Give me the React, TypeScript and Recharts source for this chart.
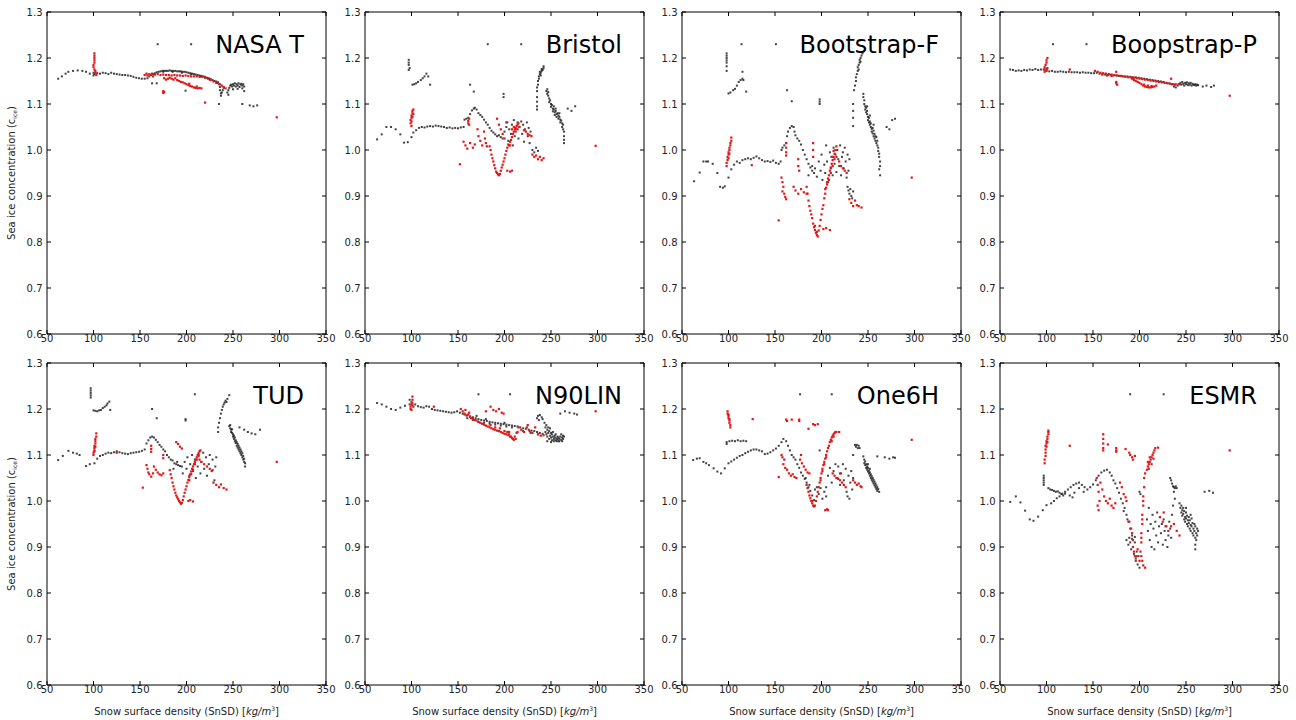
import { ScatterChart, Scatter, XAxis, YAxis } from "recharts"

type Pt = [number, number]

const titles = ["NASA T", "Bristol", "Bootstrap-F", "Boopstrap-P", "TUD", "N90LIN", "One6H", "ESMR"]
const xTicks = [50, 100, 150, 200, 250, 300, 350]
const yTicks = [0.6, 0.7, 0.8, 0.9, 1.0, 1.1, 1.2, 1.3]

// x = SnSD [kg/m3], y = sea ice concentration; black = all samples, red = highlighted samples
const nasaBlack: Pt[] = [
  [62,1.155],[66,1.16],[70,1.166],[73,1.17],[78,1.172],[83,1.173],[88,1.172],[92,1.17],[96,1.166],
  [100,1.168],[100,1.162],[101,1.165],
  [104,1.167],[107,1.166],[110,1.168],[113,1.167],[116,1.165],[119,1.168],[122,1.166],[125,1.165],[128,1.164],[131,1.163],[134,1.163],[137,1.162],[140,1.161],[143,1.159],[146,1.157],[149,1.156],[152,1.155],[155,1.155],[158,1.156],
  [160,1.16],[162,1.163],[164,1.165],[166,1.167],[168,1.169],[170,1.17],[172,1.171],[174,1.172],[176,1.172],[178,1.172],[180,1.172],[182,1.173],[184,1.172],[186,1.172],[188,1.172],[190,1.171],[192,1.171],[194,1.171],[196,1.17],[198,1.17],[200,1.169],[202,1.168],[204,1.167],[206,1.166],[208,1.165],[210,1.164],[212,1.163],[214,1.162],[216,1.161],[218,1.16],[220,1.159],[222,1.157],[224,1.156],[226,1.154],[228,1.152],[230,1.15],[232,1.149],[234,1.147],[236,1.143],
  [175,1.17],[185,1.17],[195,1.168],[205,1.165],[215,1.16],[225,1.153],[233,1.146],
  [236,1.137],[236,1.13],[237,1.123],[237,1.118],[238,1.125],[239,1.13],[240,1.135],
  [244,1.125],[245,1.13],[246,1.135],[247,1.14],[248,1.142],[249,1.138],[250,1.143],[251,1.14],[252,1.145],[253,1.138],[254,1.143],[255,1.14],[256,1.145],[257,1.137],[258,1.142],[259,1.144],[260,1.14],[261,1.143],[262,1.138],[262,1.128],[245,1.12],[250,1.132],[255,1.133],[260,1.134],
  [163,1.145],[168,1.145],[199,1.129],[169,1.23],[205,1.23],[235,1.1],[260,1.1],[268,1.097],[272,1.095],[276,1.097],
]
const nasaRed: Pt[] = [
  [101,1.21],[101,1.205],[101,1.2],[101,1.195],[101,1.19],[100,1.185],[100,1.18],[101,1.175],[102,1.172],[102,1.168],[103,1.163],
  [155,1.163],[157,1.166],[160,1.165],[163,1.166],[166,1.164],[169,1.165],[172,1.163],[175,1.164],[178,1.163],[181,1.163],[184,1.162],[187,1.163],[190,1.162],[193,1.162],[196,1.161],[199,1.162],[202,1.161],[205,1.16],[208,1.16],[211,1.16],[214,1.159],[217,1.159],[220,1.157],[223,1.155],[226,1.152],[229,1.149],[232,1.146],[235,1.143],[238,1.14],[240,1.137],[242,1.134],
  [176,1.156],[178,1.153],[180,1.155],[182,1.157],[184,1.155],[186,1.153],[188,1.156],[190,1.152],[192,1.15],[194,1.148],[196,1.147],[198,1.145],[200,1.143],[202,1.141],[204,1.139],[206,1.138],[208,1.136],[210,1.135],[212,1.134],[214,1.135],[216,1.134],[211,1.138],[203,1.144],
  [175,1.128],[175,1.124],[176,1.126],[220,1.103],[297,1.071],[158,1.162],[164,1.16],
]

const bristolBlack: Pt[] = [
  [63,1.023],[68,1.034],[73,1.05],[78,1.05],[83,1.045],[88,1.034],[92,1.016],[96,1.017],
  [97,1.196],[97,1.19],[97,1.185],[98,1.178],[97,1.174],
  [101,1.142],[103,1.143],[105,1.145],[107,1.148],[110,1.152],[112,1.156],[114,1.16],[116,1.166],[118,1.16],[120,1.142],
  [100,1.028],[102,1.038],[105,1.043],[108,1.048],[111,1.05],[114,1.049],[117,1.051],[120,1.052],[123,1.051],[126,1.053],[129,1.052],[132,1.051],[135,1.05],[138,1.048],[141,1.049],[144,1.047],[147,1.048],[150,1.047],[153,1.049],[156,1.05],
  [157,1.066],[159,1.068],[161,1.07],[163,1.078],[165,1.086],[167,1.09],[168,1.092],[170,1.088],[172,1.08],[174,1.076],[176,1.072],[178,1.066],[180,1.06],[182,1.055],[184,1.048],[186,1.042],[188,1.038],[190,1.034],[192,1.03],[194,1.032],[196,1.028],[198,1.025],
  [200,1.04],[202,1.05],[203,1.06],[205,1.045],[207,1.035],[208,1.055],[210,1.065],[211,1.03],[212,1.045],[214,1.06],[215,1.025],[216,1.05],[218,1.062],[219,1.035],[220,1.055],[221,1.018],[222,1.045],[224,1.06],[225,1.03],[226,1.048],[227,1.015],[228,1.04],[204,1.02],[209,1.01],
  [163,1.142],[167,1.127],[182,1.23],[199,1.122],[199,1.115],[218,1.23],
  [230,1.0],[232,0.995],[234,1.005],[236,0.998],
  [235,1.128],[235,1.136],[236,1.142],[236,1.15],[237,1.155],[237,1.16],[238,1.165],[238,1.17],[239,1.168],[240,1.172],[240,1.176],[241,1.174],[242,1.178],[242,1.182],[239,1.162],
  [235,1.115],[235,1.105],[235,1.095],[235,1.088],
  [245,1.128],[246,1.132],[246,1.122],[247,1.118],[247,1.126],[248,1.112],[248,1.104],[249,1.108],[250,1.1],[250,1.094],[251,1.098],[252,1.09],[252,1.084],[253,1.088],[254,1.082],[254,1.076],[255,1.085],[256,1.078],[256,1.072],[257,1.08],[258,1.075],[258,1.068],[259,1.072],[260,1.066],[260,1.06],[261,1.064],[262,1.058],[262,1.05],[263,1.055],[263,1.045],[264,1.04],[264,1.03],[264,1.022],[264,1.015],[255,1.09],[259,1.08],[253,1.095],
  [268,1.09],[272,1.085],[276,1.095],
]
const bristolRed: Pt[] = [
  [99,1.058],[99,1.065],[100,1.07],[100,1.075],[100,1.062],[101,1.08],[101,1.085],[102,1.088],[101,1.072],[100,1.052],[102,1.078],
  [161,1.058],[161,1.063],[162,1.068],[162,1.055],[152,0.969],
  [156,1.018],[158,1.01],[160,1.003],[163,1.015],[166,1.005],[168,1.012],
  [171,1.045],[172,1.03],[174,1.02],[176,1.01],[178,1.04],[179,1.025],[180,1.015],[181,1.008],
  [184,1.008],[185,1.0],[186,0.99],[187,0.982],[188,0.975],[189,0.967],[190,0.96],[191,0.953],[192,0.95],[193,0.947],[194,0.945],[195,0.948],
  [196,0.955],[197,0.962],[198,0.968],[199,0.975],[200,0.982],[201,0.99],[202,0.998],[203,1.005],[204,1.012],[205,1.01],[206,1.018],[207,1.022],[208,1.028],[209,1.035],[210,1.04],[211,1.045],[212,1.048],[213,1.052],[214,1.055],[215,1.058],[216,1.05],[210,1.05],[212,1.04],[214,1.045],[208,1.045],[206,1.01],
  [192,1.068],[194,1.055],[196,1.045],[198,1.035],[200,1.025],[202,1.06],[203,0.955],[206,0.953],[208,0.955],
  [221,1.043],[223,1.04],[225,1.035],[227,1.032],[229,1.03],
  [230,0.99],[232,0.985],[234,0.988],[236,0.98],[238,0.985],[240,0.978],[242,0.982],
  [298,1.009],
]

const bootFBlack: Pt[] = [
  [63,0.932],[69,0.951],[73,0.975],[76,0.975],[78,0.975],[83,0.97],[88,0.95],[91,0.92],[94,0.918],[96,0.921],
  [98,1.21],[98,1.205],[98,1.2],[98,1.195],[98,1.19],[98,1.182],[98,1.172],
  [100,1.123],[102,1.125],[105,1.13],[107,1.133],[109,1.14],[111,1.148],[113,1.152],[115,1.155],[116,1.152],[115,1.17],[119,1.127],
  [100,0.94],[103,0.958],[106,0.968],[109,0.975],[112,0.972],[115,0.978],[118,0.98],[121,0.982],[124,0.98],[127,0.983],[130,0.986],[133,0.982],[136,0.978],[139,0.975],[142,0.976],[145,0.974],[148,0.977],[151,0.972],[154,0.97],[156,0.975],
  [157,1.0],[158,1.005],[160,1.01],[162,1.015],[163,1.03],[164,1.04],[166,1.048],[168,1.052],[170,1.05],[171,1.04],[172,1.032],[174,1.025],[176,1.02],[178,1.012],[180,1.0],[182,0.99],[184,0.98],[186,0.97],[188,0.962],[190,0.955],[192,0.95],
  [163,1.13],[168,1.106],[198,1.11],[198,1.1],[198,1.105],[114,1.23],[151,1.23],
  [186,0.945],[190,0.965],[193,0.96],[195,0.942],[197,0.975],[199,0.955],[200,0.99],[201,0.935],[203,0.968],[204,0.95],[205,1.01],[206,0.975],[207,0.93],[209,0.995],[210,0.96],[211,0.985],[212,0.945],[213,1.005],[214,0.97],[215,0.99],[216,0.952],[217,1.0],[218,0.98],[219,0.965],[220,1.01],[221,0.945],[222,0.985],[223,0.995],[224,0.96],[225,1.005],[226,0.975],[227,0.94],[228,0.99],[229,0.955],[230,0.98],
  [228,0.92],[229,0.912],[230,0.905],[231,0.915],[232,0.9],[233,0.895],[234,0.91],
  [235,1.13],[236,1.14],[237,1.15],[237,1.158],[238,1.165],[239,1.172],[239,1.18],[240,1.185],[241,1.19],[241,1.196],[242,1.2],[243,1.205],[244,1.21],[240,1.175],[242,1.192],
  [234,1.1],[234,1.085],[234,1.07],[234,1.052],
  [245,1.122],[245,1.115],[246,1.108],[246,1.1],[247,1.095],[247,1.088],[248,1.092],[248,1.082],[249,1.078],[249,1.085],[250,1.072],[250,1.065],[251,1.07],[251,1.06],[252,1.062],[252,1.055],[253,1.05],[253,1.058],[254,1.046],[254,1.04],[255,1.048],[255,1.036],[256,1.042],[256,1.03],[257,1.035],[257,1.025],[258,1.03],[258,1.02],[259,1.028],[259,1.015],[260,1.02],[260,1.01],[261,1.005],[261,0.998],[262,0.992],[262,0.985],[263,0.975],[263,0.965],[262,0.958],[263,0.945],[252,1.075],[256,1.055],[249,1.095],
  [270,1.05],[273,1.045],[276,1.065],[279,1.068],
]
const bootFRed: Pt[] = [
  [98,0.965],[98,0.972],[99,0.978],[99,0.985],[100,0.99],[100,0.995],[101,1.0],[101,1.005],[102,1.01],[102,1.015],[103,1.02],[103,1.027],[100,0.982],[101,0.992],
  [125,0.967],[154,0.847],
  [157,0.94],[158,0.93],[159,0.92],[160,0.905],[161,0.898],[162,0.893],[158,0.91],
  [162,1.015],[162,1.005],[162,0.995],[162,0.988],
  [170,0.92],[172,0.912],[175,0.905],[178,0.915],[181,0.908],[184,0.905],
  [175,0.98],[175,0.965],[176,0.955],
  [184,0.92],[185,0.905],[186,0.89],[187,0.878],[188,0.868],[189,0.86],[190,0.852],[191,0.84],[192,0.832],[193,0.826],[194,0.82],[195,0.815],[196,0.812],[193,0.835],[195,0.822],
  [197,0.825],[198,0.835],[199,0.848],[200,0.86],[201,0.872],[202,0.88],[203,0.895],[204,0.905],[205,0.918],[206,0.93],[207,0.938],[208,0.945],[209,0.955],[210,0.962],[211,0.97],[212,0.978],[213,0.985],[214,0.992],[215,1.0],[216,1.008],[208,0.935],[210,0.95],[212,0.965],[214,0.98],[206,0.925],[204,0.915],[211,0.985],[213,0.998],
  [191,1.015],[191,1.0],[191,0.985],
  [202,0.828],[205,0.83],[209,0.826],
  [216,0.985],[219,0.975],[221,0.965],[223,0.96],[225,0.955],[227,0.95],
  [230,0.893],[232,0.885],[234,0.878],[236,0.89],[238,0.88],[240,0.878],[243,0.875],
  [297,0.94],
]

const bootPBlack: Pt[] = [
  [61,1.175],[64,1.174],[67,1.172],[70,1.173],[73,1.172],[76,1.174],[79,1.173],[82,1.175],[85,1.174],[88,1.176],[91,1.174],[94,1.175],[97,1.175],[100,1.172],[100,1.176],[103,1.171],[106,1.172],[109,1.17],[112,1.17],[115,1.171],[118,1.17],[121,1.169],[124,1.17],[127,1.169],[130,1.169],[133,1.169],[136,1.168],[139,1.169],[142,1.168],[145,1.168],[148,1.167],[151,1.167],[154,1.168],
  [157,1.166],[160,1.165],[163,1.164],[166,1.163],[169,1.163],[172,1.162],[175,1.162],[178,1.161],[181,1.161],[184,1.16],[187,1.16],[190,1.159],[193,1.158],[196,1.158],[199,1.157],[202,1.156],[205,1.155],[208,1.154],[211,1.153],[214,1.152],[217,1.151],[220,1.15],[223,1.149],[226,1.148],[229,1.146],[232,1.145],[235,1.143],[238,1.142],[241,1.14],[237,1.138],[239,1.136],
  [243,1.143],[244,1.146],[245,1.142],[246,1.148],[247,1.144],[248,1.14],[249,1.146],[250,1.143],[251,1.147],[252,1.141],[253,1.145],[254,1.142],[255,1.146],[256,1.14],[257,1.144],[258,1.142],[259,1.141],[260,1.143],[261,1.14],[262,1.142],[263,1.141],
  [107,1.23],[143,1.23],[268,1.138],[272,1.14],[277,1.137],[280,1.14],
]
const bootPRed: Pt[] = [
  [98,1.17],[98,1.175],[98,1.18],[99,1.185],[100,1.19],[100,1.195],[101,1.2],[100,1.173],[101,1.178],
  [125,1.175],[175,1.17],[234,1.155],[297,1.118],
  [152,1.172],[155,1.17],[158,1.168],[161,1.167],[164,1.166],[167,1.165],[170,1.164],[173,1.163],[176,1.162],[179,1.161],[182,1.16],[185,1.159],[188,1.158],[191,1.158],[194,1.157],[197,1.156],[200,1.155],[203,1.154],[206,1.153],[209,1.152],[212,1.151],[215,1.15],[218,1.149],[221,1.148],[224,1.147],[227,1.146],[230,1.145],[233,1.144],[236,1.143],[239,1.143],[242,1.143],[160,1.164],[165,1.162],[170,1.161],
  [192,1.155],[194,1.152],[196,1.15],[198,1.148],[200,1.146],[202,1.143],[204,1.14],[206,1.138],[208,1.137],[210,1.136],[212,1.136],[214,1.137],[216,1.138],[218,1.14],[205,1.142],[209,1.14],[213,1.139],
  [175,1.148],[175,1.145],[176,1.142],
]

const tudBlack: Pt[] = [
  [62,1.089],[67,1.098],[73,1.109],[78,1.105],[82,1.103],[85,1.1],[92,1.076],[96,1.08],
  [97,1.245],[97,1.24],[97,1.235],[97,1.23],[97,1.225],
  [100,1.197],[102,1.196],[104,1.195],[106,1.197],[108,1.198],[110,1.202],[112,1.205],[114,1.208],[115,1.212],[117,1.216],[118,1.198],
  [101,1.082],[104,1.092],[107,1.098],[110,1.1],[113,1.103],[116,1.105],[119,1.104],[122,1.106],[125,1.108],[128,1.106],[131,1.104],[134,1.103],[137,1.102],[140,1.104],[143,1.105],[146,1.106],[149,1.107],[152,1.109],[155,1.112],
  [157,1.125],[159,1.132],[161,1.138],[163,1.14],[165,1.138],[167,1.133],[169,1.128],[171,1.122],[173,1.118],[175,1.112],[177,1.108],[179,1.1],[181,1.095],[183,1.09],[185,1.088],[187,1.082],[189,1.08],[191,1.078],[193,1.076],[195,1.075],
  [186,1.07],[190,1.085],[196,1.06],[198,1.085],[200,1.07],[201,1.095],[203,1.055],[204,1.08],[206,1.1],[207,1.065],[209,1.09],[210,1.05],[212,1.075],[213,1.1],[215,1.06],[216,1.085],[218,1.105],[219,1.07],[221,1.095],[222,1.055],[224,1.08],[225,1.1],[227,1.065],[228,1.09],[230,1.045],[231,1.075],[232,1.095],
  [163,1.2],[168,1.18],[199,1.178],[199,1.175],[209,1.232],
  [234,1.16],[234,1.15],[235,1.17],[236,1.18],[237,1.19],[238,1.198],[239,1.205],[240,1.21],[241,1.214],[242,1.218],[243,1.215],[244,1.222],[246,1.23],
  [246,1.163],[247,1.158],[247,1.165],[248,1.155],[248,1.15],[249,1.148],[249,1.156],[250,1.145],[250,1.14],[251,1.142],[251,1.135],[252,1.138],[252,1.13],[253,1.132],[253,1.126],[254,1.128],[254,1.12],[255,1.124],[255,1.116],[256,1.12],[256,1.112],[257,1.116],[257,1.108],[258,1.112],[258,1.104],[259,1.108],[259,1.1],[260,1.104],[260,1.095],[261,1.098],[261,1.09],[262,1.092],[262,1.085],[263,1.082],[263,1.075],
  [257,1.16],[262,1.155],[266,1.15],[270,1.147],[274,1.145],[279,1.155],
]
const tudRed: Pt[] = [
  [100,1.1],[100,1.105],[101,1.11],[101,1.115],[101,1.12],[102,1.125],[102,1.13],[102,1.135],[103,1.14],[103,1.147],[101,1.108],[102,1.118],
  [125,1.105],[153,1.029],
  [157,1.078],[158,1.07],[159,1.062],[160,1.058],[162,1.053],[164,1.06],
  [162,1.12],[162,1.113],[162,1.107],
  [165,1.075],[167,1.068],[169,1.062],[171,1.058],[173,1.056],[175,1.06],
  [175,1.1],[175,1.093],
  [182,1.067],[183,1.058],[184,1.05],[185,1.04],[186,1.032],[187,1.025],[188,1.018],[189,1.012],[190,1.008],[191,1.004],[192,1.0],[193,0.997],[194,0.994],[195,0.996],
  [196,1.002],[197,1.01],[198,1.018],[199,1.025],[200,1.032],[201,1.04],[202,1.046],[203,1.052],[204,1.058],[205,1.064],[206,1.07],[207,1.075],[208,1.08],[209,1.085],[210,1.09],[211,1.095],[212,1.1],[213,1.104],[214,1.108],[215,1.11],[205,1.058],[207,1.068],[209,1.08],[211,1.09],[213,1.098],[203,1.045],
  [189,1.128],[191,1.124],[193,1.118],[195,1.114],
  [202,1.0],[204,1.002],[207,0.999],
  [214,1.09],[216,1.085],[219,1.08],[222,1.075],[225,1.07],[228,1.067],
  [229,1.04],[232,1.035],[235,1.03],[237,1.036],[240,1.028],[243,1.025],
  [297,1.085],
]

const n90Black: Pt[] = [
  [63,1.213],[68,1.21],[73,1.205],[78,1.2],[83,1.198],[88,1.203],[93,1.207],[98,1.22],[98,1.21],[101,1.208],[104,1.21],[107,1.206],[110,1.204],[113,1.203],[116,1.206],[119,1.205],[122,1.2],[125,1.198],[128,1.197],[131,1.196],[134,1.195],[137,1.194],[140,1.193],[143,1.192],[146,1.193],[149,1.195],[152,1.192],[155,1.19],
  [157,1.188],[160,1.186],[163,1.184],[166,1.182],[169,1.18],[172,1.178],[175,1.176],[178,1.175],[181,1.174],[184,1.172],[187,1.171],[190,1.17],[193,1.169],[196,1.168],[199,1.167],[202,1.166],[205,1.165],[208,1.164],[211,1.163],[214,1.162],[160,1.18],[166,1.176],[172,1.172],[178,1.17],[184,1.168],[190,1.166],[196,1.164],[202,1.162],[208,1.16],[170,1.185],[180,1.178],[200,1.17],
  [217,1.16],[220,1.158],[223,1.157],[226,1.155],[229,1.153],[232,1.152],[235,1.15],[238,1.148],[241,1.146],[220,1.152],[228,1.148],[236,1.145],
  [235,1.18],[236,1.185],[238,1.187],[240,1.182],[241,1.178],[237,1.176],
  [243,1.17],[244,1.16],[244,1.15],[245,1.165],[245,1.145],[246,1.155],[246,1.14],[247,1.16],[247,1.148],[248,1.135],[248,1.152],[249,1.142],[249,1.158],[250,1.138],[250,1.148],[251,1.132],[251,1.145],[252,1.14],[252,1.15],[253,1.135],[253,1.13],[254,1.142],[254,1.138],[255,1.132],[255,1.145],[256,1.136],[256,1.13],[257,1.14],[257,1.134],[258,1.13],[258,1.138],[259,1.135],[259,1.13],[260,1.14],[261,1.133],[261,1.145],[262,1.138],[262,1.13],[263,1.142],[263,1.135],[264,1.14],[246,1.13],[250,1.128],
  [172,1.232],[206,1.232],[260,1.19],[265,1.195],[270,1.192],[275,1.19],[278,1.188],
]
const n90Red: Pt[] = [
  [99,1.2],[99,1.205],[100,1.21],[100,1.215],[101,1.22],[101,1.227],[100,1.198],[101,1.212],[102,1.205],
  [124,1.205],
  [153,1.2],[155,1.195],[157,1.19],[159,1.186],[161,1.188],[163,1.183],[158,1.198],[162,1.192],
  [164,1.18],[166,1.178],[168,1.176],[170,1.175],[172,1.172],[174,1.17],[176,1.168],[178,1.166],[180,1.164],[182,1.162],[184,1.16],[186,1.158],[188,1.156],[190,1.155],[192,1.153],[194,1.152],[196,1.15],[198,1.148],[200,1.146],[202,1.145],[204,1.143],[206,1.14],[208,1.137],[210,1.133],[185,1.165],[190,1.16],[195,1.158],[200,1.152],[205,1.15],
  [185,1.205],[188,1.198],[191,1.195],[194,1.2],[197,1.192],[199,1.19],[180,1.195],
  [203,1.15],[205,1.145],[207,1.14],[209,1.135],[211,1.14],[213,1.148],[214,1.15],[212,1.135],
  [215,1.16],[218,1.155],[221,1.15],[224,1.16],[227,1.152],[230,1.148],[233,1.16],[236,1.145],[239,1.142],[242,1.143],[225,1.165],
  [298,1.195],
]

const one6hBlack: Pt[] = [
  [62,1.089],[66,1.092],[69,1.093],[73,1.085],[76,1.082],[79,1.078],[84,1.071],[88,1.064],[92,1.06],[96,1.071],[100,1.082],
  [98,1.128],[98,1.124],[101,1.13],[104,1.131],[107,1.13],[110,1.132],[113,1.13],[116,1.131],[119,1.13],
  [103,1.086],[106,1.09],[109,1.094],[112,1.098],[115,1.1],[118,1.104],[121,1.107],[124,1.11],[127,1.112],[130,1.112],[133,1.11],[136,1.108],[139,1.102],[142,1.103],[145,1.106],[148,1.11],[151,1.114],[154,1.12],[157,1.128],[159,1.135],
  [162,1.13],[164,1.12],[166,1.11],[168,1.1],[170,1.095],[172,1.09],[174,1.08],[176,1.072],[178,1.062],[180,1.055],[182,1.048],[184,1.04],[186,1.03],[188,1.022],[190,1.012],[192,1.002],[187,1.035],[183,1.05],
  [193,1.025],[195,1.03],[197,1.015],[199,1.028],[201,1.005],[203,1.02],[205,1.01],
  [198,1.11],
  [205,1.03],[207,1.055],[209,1.072],[211,1.04],[213,1.065],[215,1.08],[217,1.05],[218,1.075],[220,1.035],[221,1.06],[223,1.08],[224,1.045],[226,1.07],[227,1.02],[229,1.055],[230,1.005],[231,1.04],[232,1.065],[233,1.025],[234,1.05],[228,1.01],
  [236,1.122],[237,1.118],[238,1.122],[239,1.115],[240,1.12],[241,1.115],[234,1.1],
  [245,1.097],[246,1.09],[246,1.082],[247,1.086],[247,1.078],[248,1.08],[248,1.072],[249,1.075],[249,1.068],[250,1.072],[250,1.064],[251,1.066],[251,1.06],[252,1.062],[252,1.055],[253,1.058],[253,1.05],[254,1.054],[254,1.046],[255,1.05],[255,1.042],[256,1.046],[256,1.038],[257,1.042],[257,1.034],[258,1.038],[258,1.03],[259,1.034],[259,1.026],[260,1.03],[260,1.022],[261,1.026],[262,1.02],[252,1.07],[250,1.08],
  [260,1.097],[268,1.095],[273,1.092],[277,1.095],[279,1.094],
  [177,1.232],[211,1.232],
]
const one6hRed: Pt[] = [
  [99,1.195],[99,1.19],[100,1.185],[100,1.18],[101,1.175],[101,1.17],[102,1.165],[102,1.16],[100,1.188],[101,1.178],
  [126,1.178],[162,1.177],[163,1.174],[168,1.177],[176,1.177],[176,1.174],[186,1.157],[191,1.167],[193,1.165],[196,1.167],
  [209,1.128],[210,1.133],[211,1.138],[212,1.142],[213,1.145],[214,1.148],[215,1.15],[216,1.15],[211,1.13],[213,1.14],[219,1.15],
  [193,0.99],[194,1.0],[195,1.01],[196,1.02],[197,1.03],[198,1.04],[199,1.05],[200,1.06],[201,1.07],[202,1.078],[203,1.085],[204,1.092],[205,1.1],[206,1.108],[207,1.115],[208,1.12],[199,1.045],[201,1.065],[203,1.08],[205,1.095],
  [184,1.035],[185,1.028],[186,1.02],[187,1.012],[188,1.006],[189,1.0],[190,0.995],[191,0.99],[192,0.988],[190,1.0],
  [154,1.052],[157,1.1],[158,1.095],[160,1.09],
  [159,1.08],[161,1.072],[163,1.068],[165,1.06],[167,1.055],[169,1.058],[171,1.052],[173,1.05],
  [177,1.09],[179,1.082],[181,1.075],[183,1.068],[185,1.062],[187,1.06],[178,1.1],
  [204,0.98],[206,0.982],[207,0.98],
  [212,1.06],[214,1.055],[216,1.05],[218,1.048],[220,1.045],[222,1.04],[224,1.035],[226,1.03],[220,1.06],
  [234,1.045],[236,1.04],[238,1.035],[240,1.038],[242,1.032],[243,1.03],
  [297,1.133],
]

const esmrBlack: Pt[] = [
  [61,0.998],[67,1.01],[72,0.997],[77,0.979],[82,0.96],[86,0.957],[91,0.966],[96,0.98],[100,0.991],
  [97,1.055],[97,1.05],[97,1.045],[97,1.04],[97,1.035],
  [102,1.028],[104,1.025],[106,1.024],[108,1.022],[110,1.02],[112,1.021],[114,1.018],[116,1.015],[118,1.012],[120,1.016],
  [105,0.995],[108,1.0],[111,1.006],[114,1.01],[117,1.016],[120,1.02],[123,1.025],[126,1.03],[129,1.035],[132,1.038],[135,1.04],[138,1.035],[141,1.03],[144,1.025],[147,1.03],[150,1.036],[153,1.045],[156,1.055],[159,1.062],[162,1.066],[165,1.068],[168,1.062],
  [125,1.012],[130,1.018],[135,1.028],[140,1.02],[128,1.008],
  [170,1.055],[172,1.045],[174,1.038],[176,1.028],[178,1.018],[180,1.005],[182,0.995],[184,0.985],[186,0.97],[188,0.955],[190,0.94],[192,0.925],[187,0.96],[183,0.978],
  [186,0.915],[188,0.905],[190,0.91],[191,0.895],[193,0.9],[194,0.885],[195,0.91],[196,0.875],[197,0.89],[198,0.862],[199,0.88],[200,0.855],[189,0.92],[192,0.918],[195,0.922],
  [200,1.02],[201,1.015],[208,0.96],[209,0.935],[210,0.985],[211,0.915],[212,0.95],[213,0.9],[214,0.97],[215,0.94],[216,0.895],[217,0.955],[218,0.925],[219,0.975],[220,0.91],[221,0.945],[222,0.965],[223,0.93],[224,0.95],[225,0.905],[226,0.96],[227,0.935],[228,0.915],[229,0.945],[230,0.9],[231,0.925],[232,0.955],[233,0.94],[234,0.92],[235,0.97],[236,0.99],
  [233,1.05],[234,1.045],[235,1.038],[236,1.032],[237,1.03],[238,1.028],[239,1.032],[240,1.028],[237,1.02],[238,1.005],
  [243,0.995],[244,0.985],[245,0.975],[245,0.99],[246,0.98],[246,0.968],[247,0.985],[247,0.972],[248,0.96],[248,0.978],[249,0.965],[249,0.955],[250,0.975],[250,0.962],[251,0.95],[251,0.968],[252,0.958],[252,0.945],[253,0.965],[253,0.952],[254,0.94],[254,0.958],[255,0.948],[255,0.935],[256,0.962],[256,0.945],[257,0.93],[257,0.952],[258,0.94],[258,0.925],[259,0.95],[259,0.935],[260,0.92],[260,0.945],[261,0.93],[261,0.915],[262,0.94],[262,0.925],[263,0.935],[260,0.905],[260,0.895],[250,0.985],[255,0.97],
  [270,1.02],[275,1.022],[279,1.018],
  [190,1.232],[226,1.232],
]
const esmrRed: Pt[] = [
  [98,1.082],[98,1.09],[99,1.098],[99,1.105],[99,1.112],[100,1.118],[100,1.125],[100,1.13],[101,1.135],[101,1.14],[102,1.145],[102,1.15],[102,1.153],[99,1.12],[101,1.128],
  [125,1.12],
  [161,1.145],[161,1.135],[161,1.125],[161,1.115],[161,1.11],
  [166,1.123],[175,1.115],[175,1.11],[175,1.107],[185,1.113],
  [189,1.105],[190,1.1],[192,1.095],[193,1.09],[195,1.098],
  [208,1.068],[209,1.075],[210,1.08],[211,1.085],[212,1.09],[213,1.095],[214,1.1],[215,1.105],[216,1.11],[217,1.115],[209,1.085],[211,1.095],[213,1.08],[215,1.092],[210,1.07],
  [220,1.116],
  [154,1.05],[155,1.035],[155,0.99],[156,1.02],[157,1.0],[156,0.98],
  [158,1.04],[160,1.025],[162,1.01],[164,1.0],[166,0.995],[168,1.005],[170,0.99],[172,0.985],[174,0.995],
  [179,1.04],[181,1.03],[183,1.015],[185,1.008],[186,1.0],
  [189,0.955],[191,0.94],[192,0.93],[193,0.915],[193,0.9],[194,0.89],[195,0.88],[196,0.87],[197,0.88],[198,0.895],
  [200,0.87],[201,0.89],[202,0.91],[202,0.93],[203,0.95],[203,0.97],[204,0.99],[204,1.01],[205,1.03],[205,1.05],[206,1.06],[204,1.0],[203,0.96],[202,0.92],
  [202,0.88],[203,0.87],[204,0.86],[206,0.855],
  [222,0.965],[225,0.955],[228,0.945],[231,0.935],[234,0.945],[237,0.95],[240,0.935],[243,0.925],[226,0.975],
  [297,1.11],
]

const blackSets = [nasaBlack, bristolBlack, bootFBlack, bootPBlack, tudBlack, n90Black, one6hBlack, esmrBlack]
const redSets = [nasaRed, bristolRed, bootFRed, bootPRed, tudRed, n90Red, one6hRed, esmrRed]

const colLeft = [47, 365, 682, 1000]
const rowTop = [12, 363]
const plotW = 279
const plotH = 322
const font = "DejaVu Sans"

const toObjs = (pts: Pt[]) => pts.map(([x, y]) => ({ x, y }))

const blackDot = (p: any) => <rect x={p.cx - 1} y={p.cy - 1} width={2} height={2} fill="#222" fillOpacity={0.85} />
const redDot = (p: any) => <rect x={p.cx - 1.1} y={p.cy - 1.1} width={2.2} height={2.2} fill="#e01818" />

function Panel({ idx }: { idx: number }) {
  const left = colLeft[idx % 4]
  const top = rowTop[Math.floor(idx / 4)]
  const tickStyle = { fontSize: 10, fill: "#222", fontFamily: font }
  return (
    <div style={{ position: "absolute", left: left - 30, top: top - 8 }}>
      <ScatterChart width={30 + plotW + 14} height={8 + plotH + 22} margin={{ top: 7, right: 13, bottom: 0, left: 0 }}>
        <XAxis xAxisId="b" type="number" dataKey="x" domain={[50, 350]} ticks={xTicks} allowDataOverflow height={22}
          stroke="#000" tickSize={-4} tickMargin={5} tick={tickStyle} interval={0} />
        <XAxis xAxisId="t" type="number" dataKey="x" orientation="top" domain={[50, 350]} ticks={xTicks} allowDataOverflow height={1}
          stroke="#000" tickSize={-4} tickMargin={0} tickFormatter={() => ""} interval={0} />
        <YAxis yAxisId="l" type="number" dataKey="y" domain={[0.6, 1.3]} ticks={yTicks} allowDataOverflow width={30}
          stroke="#000" tickSize={-4} tickMargin={8.5} tick={tickStyle} tickFormatter={(v: number) => v.toFixed(1)} interval={0} />
        <YAxis yAxisId="r" type="number" dataKey="y" orientation="right" domain={[0.6, 1.3]} ticks={yTicks} allowDataOverflow width={1}
          stroke="#000" tickSize={-4} tickMargin={0} tickFormatter={() => ""} interval={0} />
        <Scatter xAxisId="t" yAxisId="r" data={[]} isAnimationActive={false} />
        <Scatter xAxisId="b" yAxisId="l" data={toObjs(blackSets[idx])} shape={blackDot} isAnimationActive={false} />
        <Scatter xAxisId="b" yAxisId="l" data={toObjs(redSets[idx])} shape={redDot} isAnimationActive={false} />
      </ScatterChart>
    </div>
  )
}

export default function App() {
  return (
    <div style={{ position: "absolute", left: 0, top: 0, width: 1296, height: 720, background: "#fff" }}>
      {titles.map((_, i) => <Panel key={i} idx={i} />)}
      <svg width={1296} height={720} style={{ position: "absolute", left: 0, top: 0, pointerEvents: "none" }}>
        {titles.map((t, i) => (
          <text key={t} x={colLeft[i % 4] + plotW - 22} y={rowTop[Math.floor(i / 4)] + 41} textAnchor="end"
            fontFamily={font} fontSize={24} fill="#000">{t}</text>
        ))}
        {rowTop.map((t) => (
          <text key={t} transform={`translate(15, ${t + plotH / 2}) rotate(-90)`} textAnchor="middle" fontFamily={font} fontSize={10} fill="#222">
            Sea ice concentration (c<tspan fontSize={6} dy={2}>ice</tspan><tspan dy={-2}>)</tspan>
          </text>
        ))}
        {colLeft.map((l) => (
          <text key={l} x={l + plotW / 2} y={715} textAnchor="middle" fontFamily={font} fontSize={10} fill="#222">
            Snow surface density (SnSD) [<tspan fontStyle="italic">kg/m</tspan><tspan fontSize={6} dy={-4}>3</tspan><tspan dy={4}>]</tspan>
          </text>
        ))}
      </svg>
    </div>
  )
}
